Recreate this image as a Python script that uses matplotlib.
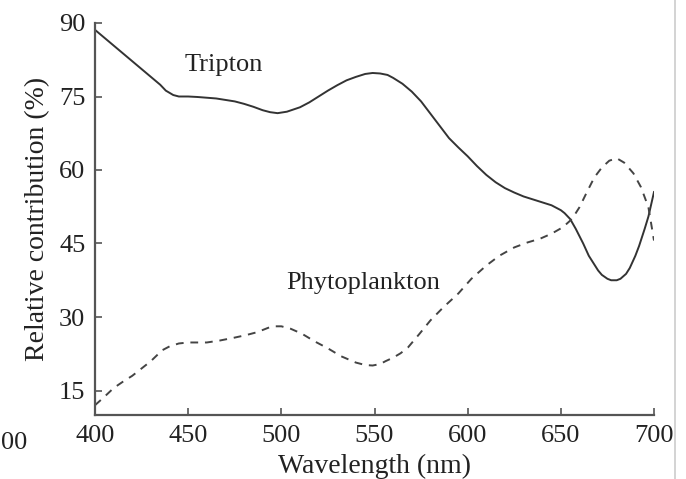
import matplotlib
matplotlib.use("Agg")
import matplotlib.pyplot as plt
from matplotlib.lines import Line2D

# values
tripton_wl = [400, 410, 420, 430, 435, 438, 442, 445, 450, 455, 465, 470, 475, 480, 485, 490,
              494, 498, 503, 510, 515, 520, 525, 530, 535, 540, 545, 549, 553, 557, 560, 565,
              570, 575, 580, 585, 590, 595, 600, 605, 610, 615, 620, 625, 630, 635, 640, 645,
              650, 652, 655, 658, 660, 662, 665, 667, 670, 672, 675, 677, 680, 682, 685, 687,
              690, 692, 695, 697, 700]
tripton = [88.6, 85.4, 82.2, 79.0, 77.4, 76.2, 75.3, 75.0, 75.0, 74.9, 74.6, 74.3, 74.0, 73.5,
           72.9, 72.2, 71.8, 71.6, 71.9, 72.8, 73.8, 75.0, 76.2, 77.3, 78.3, 79.0, 79.6, 79.8,
           79.7, 79.4, 78.8, 77.6, 76.0, 74.0, 71.5, 69.0, 66.5, 64.6, 62.8, 60.8, 59.0, 57.5,
           56.3, 55.4, 54.6, 54.0, 53.4, 52.8, 51.8, 51.2, 50.0, 48.0, 46.5, 45.0, 42.5, 41.3,
           39.5, 38.6, 37.8, 37.5, 37.5, 37.8, 38.8, 40.0, 42.5, 44.5, 48.0, 50.5, 55.5]

phyto_wl = [400, 405, 410, 415, 420, 425, 430, 436, 440, 445, 450, 460, 467, 475, 481, 487,
            493, 496, 500, 505, 511, 518, 525, 532, 540, 545, 549, 553, 556, 560, 564, 568,
            574, 580, 587, 595, 602, 610, 617, 625, 632, 639, 645, 651, 656, 660, 664, 668,
            672, 676, 680, 684, 689, 693, 697, 700]
phyto = [12.0, 13.7, 15.5, 16.8, 18.0, 19.5, 21.0, 23.2, 24.0, 24.6, 24.8, 24.8, 25.2, 25.8,
         26.3, 26.9, 27.8, 28.1, 28.1, 27.6, 26.6, 25.0, 23.6, 22.0, 20.7, 20.2, 20.1, 20.4,
         21.0, 21.7, 22.6, 23.8, 26.5, 29.3, 32.0, 34.8, 37.8, 40.5, 42.5, 44.2, 45.2, 46.0,
         47.0, 48.3, 50.0, 52.4, 55.5, 58.5, 60.5, 61.9, 62.4, 61.5, 59.3, 56.5, 52.4, 45.6]

x_ticks = [400, 450, 500, 550, 600, 650, 700]
y_ticks = [15, 30, 45, 60, 75, 90]

plt.rcParams["font.family"] = ["Liberation Serif", "DejaVu Serif"]

W, H = 686, 479
fig = plt.figure(figsize=(W / 100, H / 100), dpi=100)
ax = fig.add_axes([95 / W, 1 - 415 / H, (654 - 95) / W, (415 - 23) / H])

ink = "#333333"
ax.plot(tripton_wl, tripton, "-", color=ink, lw=1.4)
ax.plot(phyto_wl, phyto, "--", color="#444444", lw=1.4, dashes=(4, 3.5))

ax.text(469, 81.4, "Tripton", fontsize=19, color="#222222", ha="center", va="center")
ax.text(544, 36.9, "Phytoplankton", fontsize=19, color="#222222", ha="center", va="center")

ax.set_xlim(400, 700)
ax.set_ylim(10, 90)
ax.set_xticks(x_ticks)
ax.set_yticks(y_ticks)
ax.tick_params(direction="in", length=5, width=1.2, color="#555555",
               labelsize=19, labelcolor="#222222", pad=7)
for side in ("top", "right"):
    ax.spines[side].set_visible(False)
for side in ("left", "bottom"):
    ax.spines[side].set_color("#555555")
    ax.spines[side].set_linewidth(1.6)

ax.set_xlabel("Wavelength (nm)", fontsize=20, color="#222222", labelpad=5)
ax.set_ylabel("Relative contribution (%)", fontsize=20, color="#222222", labelpad=6)

# clipped label of a neighbouring panel and the page edge line
fig.text(0.5 / W, 1 - 443 / H, "00", fontsize=19, color="#222222", ha="left", va="center")
fig.add_artist(Line2D([675 / W, 675 / W], [0, 1], color="#cccccc", lw=1.2))

fig.savefig("out.png", dpi=100)
